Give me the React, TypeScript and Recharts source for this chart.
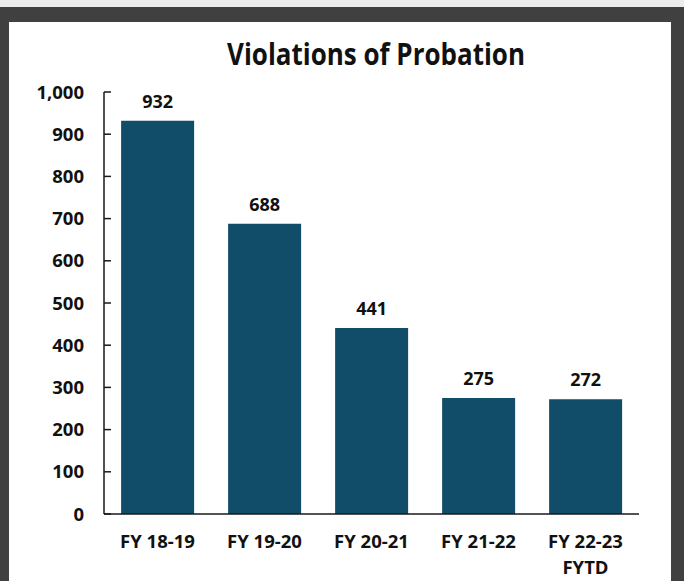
import React from "react";
import { BarChart, Bar, XAxis, YAxis, LabelList } from "recharts";

// fiscal years and violation counts
const categories = ["FY 18-19", "FY 19-20", "FY 20-21", "FY 21-22", "FY 22-23\nFYTD"];
const violations = [932, 688, 441, 275, 272];
const yTicks = [0, 100, 200, 300, 400, 500, 600, 700, 800, 900, 1000];

const data = categories.map((year, i) => ({ year, value: violations[i] }));

const FONT = "'Open Sans', 'Noto Sans', sans-serif";
const INK = "#111111";

const XTick = ({ x, y, payload }: any) => {
  const lines = String(payload.value).split("\n");
  return (
    <g>
      {lines.map((line, i) => (
        <text
          key={i}
          x={x}
          y={y + 34 + i * 26}
          textAnchor="middle"
          fontFamily={FONT}
          fontWeight={700}
          fontSize={18.5}
          fill={INK}
        >
          {line}
        </text>
      ))}
    </g>
  );
};

// ticks sit inside the plot, labels to the left
const YTick = ({ x, y, payload }: any) => (
  <g>
    <line x1={x + 20} x2={x + 27} y1={y} y2={y} stroke="#1a1a1a" strokeWidth={1.5} />
    <text
      x={x}
      y={y}
      dy="0.36em"
      textAnchor="end"
      fontFamily={FONT}
      fontWeight={700}
      fontSize={18.5}
      fill={INK}
    >
      {Number(payload.value).toLocaleString("en-US")}
    </text>
  </g>
);

export default function App() {
  return (
    <div style={{ position: "fixed", left: 0, top: 0, width: 684, height: 581, background: "#404040", overflow: "hidden" }}>
      <div style={{ position: "absolute", left: 0, top: 0, width: 684, height: 7, background: "#ececec" }} />
      <div style={{ position: "absolute", left: 9, top: 22, width: 662, height: 559, background: "#ffffff" }} />
      <svg width={684} height={80} style={{ position: "absolute", left: 0, top: 0 }}>
        <text
          x={376}
          y={65}
          textAnchor="middle"
          fontFamily={FONT}
          fontWeight={700}
          fontSize={30}
          fill={INK}
          textLength={298}
          lengthAdjust="spacingAndGlyphs"
        >
          Violations of Probation
        </text>
      </svg>
      <div style={{ position: "absolute", left: 0, top: 0 }}>
        <BarChart
          width={684}
          height={581}
          data={data}
          margin={{ top: 92, right: 45, bottom: 0, left: 0 }}
          barCategoryGap="16%"
        >
          <XAxis
            dataKey="year"
            height={67}
            interval={0}
            tickSize={0}
            tickMargin={0}
            tickLine={false}
            axisLine={{ stroke: "#1a1a1a", strokeWidth: 1.5 }}
            tick={<XTick />}
          />
          <YAxis
            width={104}
            domain={[0, 1000]}
            ticks={yTicks}
            interval={0}
            tickSize={0}
            tickMargin={20}
            tickLine={false}
            axisLine={{ stroke: "#1a1a1a", strokeWidth: 1.5 }}
            tick={<YTick />}
          />
          <Bar dataKey="value" fill="#114d69" isAnimationActive={false}>
            <LabelList
              dataKey="value"
              position="top"
              offset={13}
              fontFamily={FONT}
              fontWeight={700}
              fontSize={18}
              fill={INK}
            />
          </Bar>
        </BarChart>
      </div>
    </div>
  );
}
